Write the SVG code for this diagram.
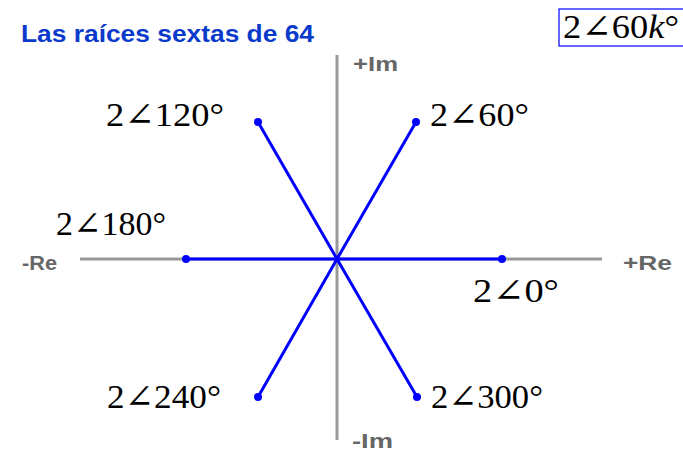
<svg xmlns="http://www.w3.org/2000/svg" width="683" height="451" viewBox="0 0 683 451">
<style>
.ax{stroke:#999;stroke-width:3;fill:none}
.rt{stroke:#0000ff;stroke-width:3;fill:none}
.dot{fill:#0000ff}
.axl{font-family:"Liberation Sans",Arial,sans-serif;font-weight:bold;font-size:21px;fill:#666}
.lbl{font-family:"Liberation Serif","DejaVu Serif",serif;font-size:33px;fill:#000}
.ttl{font-family:"Liberation Sans",Arial,sans-serif;font-weight:bold;font-size:23px;fill:#0a3acc}
</style>
<rect width="683" height="451" fill="#fff"/>
<text class="ttl" x="21" y="42" textLength="293" lengthAdjust="spacingAndGlyphs">Las raíces sextas de 64</text>
<g id="formula">
<rect x="559" y="9" width="130" height="37" fill="none" stroke="#0000ff" stroke-width="1.2"/>
<text class="lbl" x="563" y="38" font-size="30" textLength="116" lengthAdjust="spacingAndGlyphs">2∠60<tspan font-style="italic">k</tspan>°</text>
</g>
<g id="axes">
<line class="ax" x1="337" y1="55" x2="337" y2="440"/>
<line class="ax" x1="80" y1="259" x2="602" y2="259"/>
<text class="axl" x="353" y="71" textLength="45" lengthAdjust="spacingAndGlyphs">+Im</text>
<text class="axl" x="352" y="448" textLength="41" lengthAdjust="spacingAndGlyphs">-Im</text>
<text class="axl" x="22" y="270" textLength="35" lengthAdjust="spacingAndGlyphs">-Re</text>
<text class="axl" x="623" y="270" textLength="49" lengthAdjust="spacingAndGlyphs">+Re</text>
</g>
<g id="connectors">
<line class="rt" x1="337" y1="259" x2="502" y2="259"/>
<line class="rt" x1="337" y1="259" x2="416" y2="122"/>
<line class="rt" x1="337" y1="259" x2="258" y2="122"/>
<line class="rt" x1="337" y1="259" x2="186" y2="259"/>
<line class="rt" x1="337" y1="259" x2="258" y2="397"/>
<line class="rt" x1="337" y1="259" x2="417" y2="397"/>
</g>
<g id="r0"><circle class="dot" cx="502" cy="259" r="4"/><text class="lbl" x="473" y="302" textLength="86" lengthAdjust="spacingAndGlyphs">2∠0°</text></g>
<g id="r60"><circle class="dot" cx="416" cy="122" r="4"/><text class="lbl" x="430" y="126" textLength="99" lengthAdjust="spacingAndGlyphs">2∠60°</text></g>
<g id="r120"><circle class="dot" cx="258" cy="122" r="4"/><text class="lbl" x="106" y="126" textLength="118" lengthAdjust="spacingAndGlyphs">2∠120°</text></g>
<g id="r180"><circle class="dot" cx="186" cy="259" r="4"/><text class="lbl" x="56" y="235" textLength="110" lengthAdjust="spacingAndGlyphs">2∠180°</text></g>
<g id="r240"><circle class="dot" cx="258" cy="397" r="4"/><text class="lbl" x="107" y="408" textLength="114" lengthAdjust="spacingAndGlyphs">2∠240°</text></g>
<g id="r300"><circle class="dot" cx="417" cy="397" r="4"/><text class="lbl" x="431" y="408" textLength="112" lengthAdjust="spacingAndGlyphs">2∠300°</text></g>
</svg>
